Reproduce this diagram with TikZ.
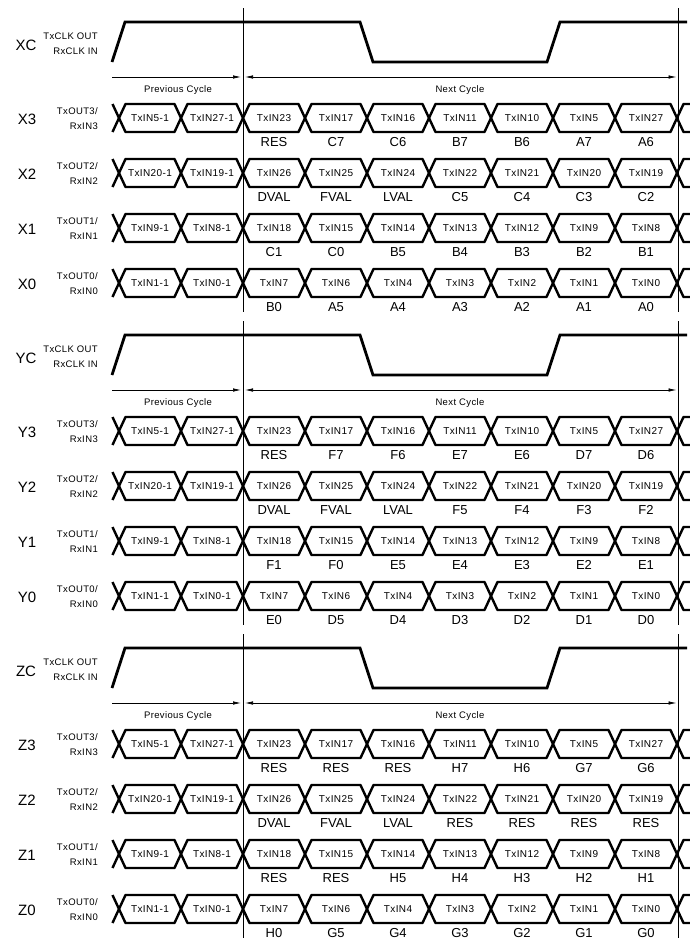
\documentclass[tikz,border=0pt]{standalone}
\usepackage{fontspec}
\setmainfont{Liberation Sans}
\newfontfamily\techfont[LetterSpace=4]{Liberation Sans}
\usetikzlibrary{arrows.meta}

\tikzset{
  sig/.style={line width=2.4pt, line join=round},
  clk/.style={line width=2.8pt, line join=miter},
  vline/.style={line width=0.9pt},
  dimline/.style={line width=0.7pt, >={Latex[length=8pt,width=3.5pt]}},
  celltxt/.style={font=\techfont\fontsize{10}{12}\selectfont, inner sep=0pt},
  bittxt/.style={font=\fontsize{13}{15}\selectfont, inner sep=0pt},
  seclbl/.style={font=\fontsize{15}{17}\selectfont, inner sep=0pt},
  sublbl/.style={font=\techfont\fontsize{9.5}{11}\selectfont, inner sep=0pt, anchor=base east},
  cyclbl/.style={font=\techfont\fontsize{9.5}{11}\selectfont, inner sep=0pt, anchor=base},
}

\newcommand\lvdsRow[5]{%
  \node[seclbl] (#1#2) at (27,#3+1) {#1#2};
  \node[sublbl] (#1#2-tx) at (98,#3-3.5) {TxOUT#2/};
  \node[sublbl] (#1#2-rx) at (98,#3+11) {RxIN#2};
  \draw[sig] (112.5,#3-14) -- (119,#3) -- (112.5,#3+14);
  \foreach \k in {0,...,8}{
    \draw[sig] (119+62*\k,#3) -- (125.5+62*\k,#3-14) -- (174.5+62*\k,#3-14)
      -- (181+62*\k,#3) -- (174.5+62*\k,#3+14) -- (125.5+62*\k,#3+14) -- cycle;
  }
  \draw[sig] (690,#3-14) -- (683.5,#3-14) -- (677,#3) -- (683.5,#3+14) -- (690,#3+14);
  \foreach \t [count=\k from 0] in {#4}{
    \node[celltxt] (#1#2-c\k) at (150+62*\k,#3) {\t};
  }
  \foreach \b [count=\k from 2] in {#5}{
    \node[bittxt] (#1#2-b\k) at (150+62*\k,#3+24) {\b};
  }
}

\newcommand\lvdsSection[6]{%
  \begin{scope}[yshift=-#2pt]
    \draw[clk] (112,62) -- (125,22) -- (360,22) -- (373,62) -- (547,62) -- (560,22) -- (687,22);
    \node[seclbl] (#1C) at (26,45.5) {#1C};
    \node[sublbl] (#1C-tx) at (98,39.5) {TxCLK OUT};
    \node[sublbl] (#1C-rx) at (98,54) {RxCLK IN};
    \coordinate (#1-L0) at (243,8);
    \coordinate (#1-L1) at (243,312);
    \coordinate (#1-R0) at (678,8);
    \coordinate (#1-R1) at (678,312);
    \draw[vline] (#1-L0) -- (#1-L1);
    \draw[vline] (#1-R0) -- (#1-R1);
    \coordinate (#1-A0) at (112,77);
    \coordinate (#1-A1) at (241,77);
    \coordinate (#1-A2) at (245,77);
    \coordinate (#1-A3) at (676.5,77);
    \draw[dimline,->] (#1-A0) -- (#1-A1);
    \draw[dimline,<->] (#1-A2) -- (#1-A3);
    \node[cyclbl] (#1-prev) at (178,92) {Previous Cycle};
    \node[cyclbl] (#1-next) at (460,92) {Next Cycle};
    \lvdsRow{#1}{3}{118}{TxIN5-1,TxIN27-1,TxIN23,TxIN17,TxIN16,TxIN11,TxIN10,TxIN5,TxIN27}{#3}
    \lvdsRow{#1}{2}{173}{TxIN20-1,TxIN19-1,TxIN26,TxIN25,TxIN24,TxIN22,TxIN21,TxIN20,TxIN19}{#4}
    \lvdsRow{#1}{1}{228}{TxIN9-1,TxIN8-1,TxIN18,TxIN15,TxIN14,TxIN13,TxIN12,TxIN9,TxIN8}{#5}
    \lvdsRow{#1}{0}{283}{TxIN1-1,TxIN0-1,TxIN7,TxIN6,TxIN4,TxIN3,TxIN2,TxIN1,TxIN0}{#6}
  \end{scope}%
}

\begin{document}
\begin{tikzpicture}[x=1pt,y=-1pt]
\useasboundingbox (0,0) rectangle (690,938);
\fill[white] (0,0) rectangle (690,938);
\lvdsSection{X}{0}{RES,C7,C6,B7,B6,A7,A6}{DVAL,FVAL,LVAL,C5,C4,C3,C2}{C1,C0,B5,B4,B3,B2,B1}{B0,A5,A4,A3,A2,A1,A0}
\lvdsSection{Y}{313}{RES,F7,F6,E7,E6,D7,D6}{DVAL,FVAL,LVAL,F5,F4,F3,F2}{F1,F0,E5,E4,E3,E2,E1}{E0,D5,D4,D3,D2,D1,D0}
\lvdsSection{Z}{626}{RES,RES,RES,H7,H6,G7,G6}{DVAL,FVAL,LVAL,RES,RES,RES,RES}{RES,RES,H5,H4,H3,H2,H1}{H0,G5,G4,G3,G2,G1,G0}
\end{tikzpicture}
\end{document}
